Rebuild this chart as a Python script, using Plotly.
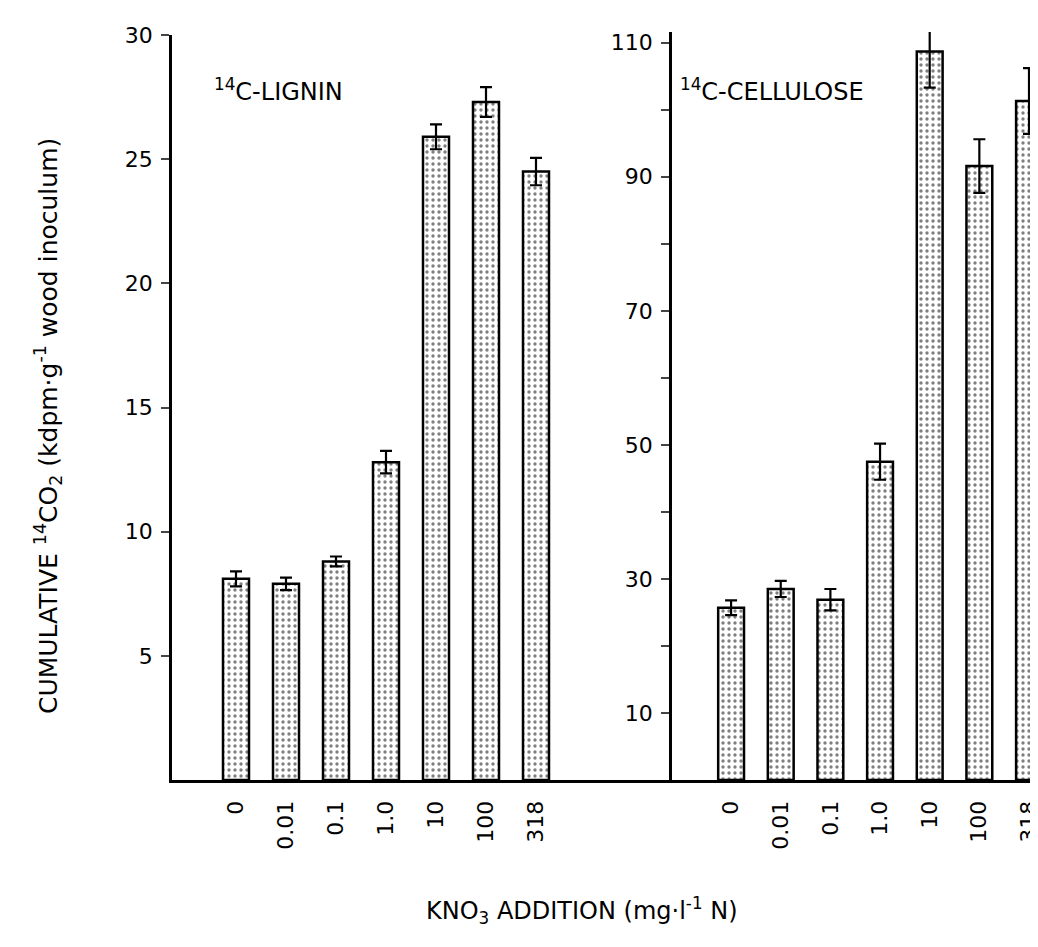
import plotly.graph_objects as go

categories = ["0", "0.01", "0.1", "1.0", "10", "100", "318"]
lignin = [8.1, 7.9, 8.8, 12.8, 25.9, 27.3, 24.5]
lignin_err = [0.3, 0.25, 0.2, 0.45, 0.5, 0.6, 0.55]
cellulose = [25.7, 28.5, 26.9, 47.5, 108.7, 91.6, 101.3]
cellulose_err = [1.1, 1.2, 1.6, 2.7, 5.4, 4.0, 4.9]
left_ticks = [5, 10, 15, 20, 25, 30]
right_ticks = [10, 20, 30, 40, 50, 60, 70, 80, 90, 100, 110]
right_ticktext = ["10", "", "30", "", "50", "", "70", "", "90", "", "110"]

OFF = 8  # page body margin
W, H = 1038 - 2 * OFF, 947 - 2 * OFF
FONT = "DejaVu Sans, Verdana, sans-serif"

def px_x(p):
    return (p - OFF) / W

def px_y(p):
    return 1 - (p - OFF) / H

pattern = dict(shape=".", fgcolor="black", bgcolor="white", size=6, solidity=0.25)

fig = go.Figure()
fig.add_trace(go.Bar(
    x=categories, y=lignin, xaxis="x", yaxis="y", width=0.52,
    marker=dict(color="white", line=dict(color="black", width=2.5), pattern=pattern),
    error_y=dict(type="data", array=lignin_err, color="black", thickness=2.2, width=6),
    showlegend=False,
))
fig.add_trace(go.Bar(
    x=categories, y=cellulose, xaxis="x2", yaxis="y2", width=0.52,
    marker=dict(color="white", line=dict(color="black", width=2.5), pattern=pattern),
    error_y=dict(type="data", array=cellulose_err, color="black", thickness=2.2, width=6),
    showlegend=False,
))

base = px_y(780)
tickfont = dict(family=FONT, size=22, color="black")

fig.update_layout(
    width=W, height=H,
    margin=dict(l=0, r=0, t=0, b=0, autoexpand=False),
    paper_bgcolor="white", plot_bgcolor="rgba(0,0,0,0)",
    font=dict(family=FONT, color="black"),
    xaxis=dict(domain=[px_x(172), px_x(672)], anchor="y", type="category",
               range=[-1.28, 8.72], showline=True, linecolor="black", linewidth=3,
               ticks="", tickangle=-90, tickfont=tickfont, showgrid=False,
               zeroline=False, automargin=False, ticklabelstandoff=9),
    yaxis=dict(domain=[base, px_y(35)], anchor="x", range=[0, 30],
               tickvals=left_ticks, ticks="outside", ticklen=8, tickwidth=2,
               showline=True, linecolor="black", linewidth=2.5, tickfont=tickfont,
               showgrid=False, zeroline=False, ticklabelstandoff=4, automargin=False),
    xaxis2=dict(domain=[px_x(672), 1], anchor="y2", type="category",
                range=[-1.19, 6.02], showline=True, linecolor="black", linewidth=3,
                ticks="", tickangle=-90, tickfont=tickfont, showgrid=False,
                zeroline=False, automargin=False, ticklabelstandoff=9),
    yaxis2=dict(domain=[base, px_y(32)], anchor="x2", range=[0, 111.6],
                tickvals=right_ticks, ticktext=right_ticktext, ticks="outside",
                ticklen=8, tickwidth=2, showline=True, linecolor="black", linewidth=2.5,
                tickfont=tickfont, showgrid=False, zeroline=False, ticklabelstandoff=4,
                automargin=False),
    bargap=0.48,
)

fig.add_annotation(x=px_x(212), y=px_y(90), xref="paper", yref="paper",
                   text="<sup>14</sup>C-LIGNIN", showarrow=False, xanchor="left",
                   yanchor="middle", font=dict(family=FONT, size=24, color="black"))
fig.add_annotation(x=px_x(678), y=px_y(90), xref="paper", yref="paper",
                   text="<sup>14</sup>C-CELLULOSE", showarrow=False, xanchor="left",
                   yanchor="middle", font=dict(family=FONT, size=24, color="black"))
fig.add_annotation(x=px_x(48), y=px_y(426), xref="paper", yref="paper",
                   text="CUMULATIVE <sup>14</sup>CO<sub>2</sub> (kdpm·g<sup>-1</sup> wood inoculum)",
                   showarrow=False, textangle=-90, xanchor="center", yanchor="middle",
                   font=dict(family=FONT, size=25, color="black"))
fig.add_annotation(x=px_x(582), y=px_y(910), xref="paper", yref="paper",
                   text="KNO<sub>3</sub> ADDITION (mg·l<sup>-1</sup> N)",
                   showarrow=False, xanchor="center", yanchor="middle",
                   font=dict(family=FONT, size=24, color="black"))

fig.write_html("out.html")
